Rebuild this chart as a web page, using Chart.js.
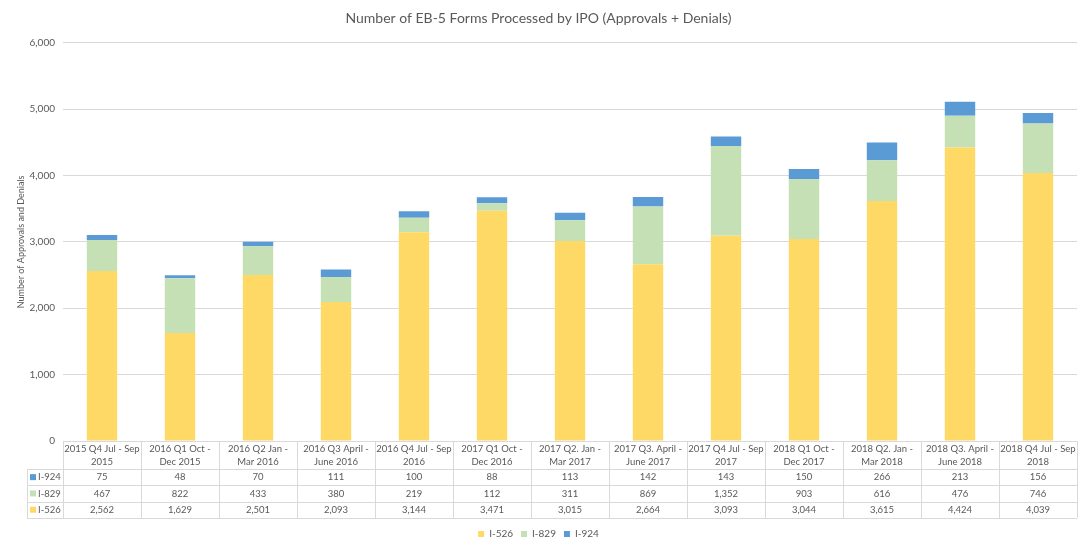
<!DOCTYPE html>
<html>
<head>
<meta charset="utf-8">
<script src="https://cdn.jsdelivr.net/npm/chart.js@4.4.0/dist/chart.umd.min.js"></script>
<style>
  html, body { margin: 0; padding: 0; background: #fff; }
  #wrap { width: 1080px; height: 549px; }
</style>
</head>
<body>
<div id="wrap"><canvas id="chart"></canvas></div>
<script>
var quarters = [
  ["2015 Q4 Jul - Sep", "2015"],
  ["2016 Q1 Oct -", "Dec 2015"],
  ["2016 Q2 Jan -", "Mar 2016"],
  ["2016 Q3 April -", "June 2016"],
  ["2016 Q4 Jul - Sep", "2016"],
  ["2017 Q1 Oct -", "Dec 2016"],
  ["2017 Q2. Jan -", "Mar 2017"],
  ["2017 Q3. April -", "June 2017"],
  ["2017 Q4 Jul - Sep", "2017"],
  ["2018 Q1 Oct -", "Dec 2017"],
  ["2018 Q2. Jan -", "Mar 2018"],
  ["2018 Q3. April -", "June 2018"],
  ["2018 Q4 Jul - Sep", "2018"]
];
var i526 = [2562, 1629, 2501, 2093, 3144, 3471, 3015, 2664, 3093, 3044, 3615, 4424, 4039];
var i829 = [467, 822, 433, 380, 219, 112, 311, 869, 1352, 903, 616, 476, 746];
var i924 = [75, 48, 70, 111, 100, 88, 113, 142, 143, 150, 266, 213, 156];
var yMax = 6000;
var yStep = 1000;

var textColor = '#595959';
var lineColor = '#d9d9d9';
var colors = { i526: '#ffd966', i829: '#c5e0b4', i924: '#5b9bd5' };

function fmt(v) { return v.toLocaleString('en-US'); }

// data table under the plot, one column per category
var tablePlugin = {
  id: 'dataTable',
  afterDraw: function(chart) {
    var ctx = chart.ctx;
    var x = chart.scales.x;
    var top = chart.chartArea.bottom;
    var n = quarters.length;
    var colW = (x.right - x.left) / n;
    var headH = 28, rowH = 16.3;
    var labelLeft = 27;
    var bottom = top + headH + 3 * rowH;
    var rows = [
      { name: 'I-924', color: colors.i924, vals: i924 },
      { name: 'I-829', color: colors.i829, vals: i829 },
      { name: 'I-526', color: colors.i526, vals: i526 }
    ];

    ctx.save();
    ctx.strokeStyle = lineColor;
    ctx.lineWidth = 1;
    ctx.beginPath();
    for (var i = 0; i <= n; i++) {
      var xx = Math.round(x.left + i * colW) + 0.5;
      ctx.moveTo(xx, top);
      ctx.lineTo(xx, bottom);
    }
    ctx.moveTo(labelLeft + 0.5, top + headH);
    ctx.lineTo(labelLeft + 0.5, bottom);
    for (var r = 0; r <= 3; r++) {
      var yy = Math.round(top + headH + r * rowH) + 0.5;
      ctx.moveTo(labelLeft, yy);
      ctx.lineTo(x.right, yy);
    }
    ctx.stroke();

    ctx.fillStyle = textColor;
    ctx.font = '9.5px Lato';
    ctx.textAlign = 'center';
    ctx.textBaseline = 'middle';
    for (var c = 0; c < n; c++) {
      var cx = x.getPixelForValue(c);
      ctx.fillText(quarters[c][0], cx, top + 8);
      ctx.fillText(quarters[c][1], cx, top + 21);
      for (var r2 = 0; r2 < rows.length; r2++) {
        ctx.fillText(fmt(rows[r2].vals[c]), cx, top + headH + rowH * (r2 + 0.5));
      }
    }

    ctx.textAlign = 'left';
    for (var k = 0; k < rows.length; k++) {
      var cy = top + headH + rowH * (k + 0.5);
      ctx.fillStyle = rows[k].color;
      ctx.fillRect(30, cy - 3, 6, 6);
      ctx.fillStyle = textColor;
      ctx.fillText(rows[k].name, 38, cy);
    }
    ctx.restore();
  }
};

new Chart(document.getElementById('chart').getContext('2d'), {
  type: 'bar',
  data: {
    labels: quarters,
    datasets: [
      { label: 'I-526', data: i526, backgroundColor: colors.i526 },
      { label: 'I-829', data: i829, backgroundColor: colors.i829 },
      { label: 'I-924', data: i924, backgroundColor: colors.i924 }
    ]
  },
  options: {
    responsive: true,
    maintainAspectRatio: false,
    animation: false,
    datasets: {
      bar: { categoryPercentage: 1, barPercentage: 0.39 }
    },
    layout: { padding: { left: 0, right: 3, top: 0, bottom: 0 } },
    plugins: {
      title: {
        display: true,
        text: 'Number of EB-5 Forms Processed by IPO (Approvals + Denials)',
        color: textColor,
        font: { family: 'Lato', size: 14, weight: 'normal' },
        padding: { top: 10, bottom: 16 }
      },
      legend: {
        position: 'bottom',
        labels: {
          boxWidth: 6,
          boxHeight: 6,
          padding: 8,
          color: textColor,
          font: { family: 'Lato', size: 10 }
        }
      },
      tooltip: { enabled: false }
    },
    scales: {
      x: {
        stacked: true,
        grid: { display: false },
        border: { display: false },
        ticks: { display: false },
        afterFit: function(scale) { scale.height = 80; }
      },
      y: {
        stacked: true,
        min: 0,
        max: yMax,
        ticks: {
          stepSize: yStep,
          padding: 8,
          color: textColor,
          font: { family: 'Lato', size: 10 },
          callback: function(v) { return fmt(v); }
        },
        grid: { color: lineColor, drawTicks: false },
        border: { display: false },
        title: {
          display: true,
          text: 'Number of Approvals and Denials',
          color: textColor,
          font: { family: 'Lato', size: 9 },
          padding: { top: 16, bottom: 2 }
        },
        afterFit: function(scale) { scale.width = 63; }
      }
    }
  },
  plugins: [tablePlugin]
});
</script>
</body>
</html>
